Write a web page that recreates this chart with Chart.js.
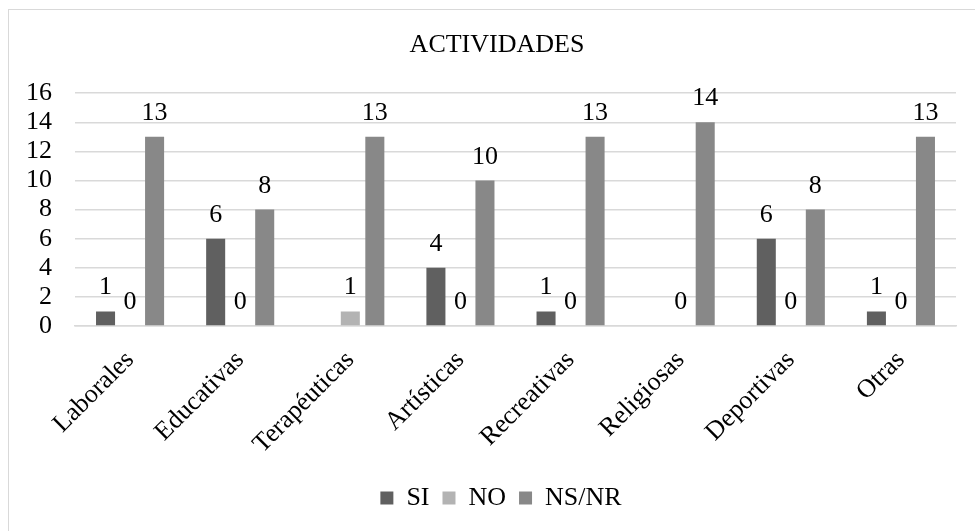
<!DOCTYPE html>
<html>
<head>
<meta charset="utf-8">
<script src="https://cdn.jsdelivr.net/npm/chart.js@4"></script>
<style>
  body { margin: 0; background: #fff; }
  .frame { position: absolute; left: 8px; top: 9px; width: 1000px; height: 600px; border: 1px solid #d9d9d9; }
  .wrap { position: absolute; left: 0; top: 0; width: 975px; height: 531px; }
</style>
</head>
<body>
<div class="frame"></div>
<div class="wrap"><canvas id="myChart" width="975" height="531"></canvas></div>
<script>
let categories = ['Laborales', 'Educativas', 'Terapéuticas', 'Artísticas', 'Recreativas', 'Religiosas', 'Deportivas', 'Otras'];

let si = [1, 6, null, 4, 1, null, 6, 1];
let no = [0, 0, 1, 0, 0, 0, 0, 0];
let nsnr = [13, 8, 13, 10, 13, 14, 8, 13];

let yTicks = [0, 2, 4, 6, 8, 10, 12, 14, 16];

const serif = "'Liberation Serif', 'Times New Roman', serif";
const fontSize = 26;
Chart.defaults.font.family = serif;
Chart.defaults.font.size = fontSize;
Chart.defaults.color = '#000';

// numbers above each bar
const valueLabels = {
    id: 'valueLabels',
    afterDatasetsDraw(chart) {
        const ctx = chart.ctx;
        ctx.save();
        ctx.font = fontSize + 'px ' + serif;
        ctx.fillStyle = '#000';
        ctx.textAlign = 'center';
        ctx.textBaseline = 'alphabetic';
        chart.data.datasets.forEach((ds, i) => {
            chart.getDatasetMeta(i).data.forEach((bar, j) => {
                const v = ds.data[j];
                if (v === null) return;
                ctx.fillText(String(v), bar.x, bar.y - 17);
            });
        });
        ctx.restore();
    }
};

// title and legend sit a little right of the canvas centre
const shiftBlocks = {
    id: 'shiftBlocks',
    afterLayout(chart) {
        if (chart.titleBlock) { chart.titleBlock.left += 19; chart.titleBlock.right += 19; }
        if (chart.legend) { chart.legend.left += 23; chart.legend.right += 23; }
    }
};

const chart = document.getElementById('myChart').getContext('2d');
const myChart = new Chart(chart, {
    type: 'bar',
    data: {
        labels: categories,
        datasets: [
            { label: 'SI', data: si, backgroundColor: '#606060' },
            { label: 'NO', data: no, backgroundColor: '#b3b3b3' },
            { label: 'NS/NR', data: nsnr, backgroundColor: '#888888' }
        ]
    },
    options: {
        responsive: false,
        animation: false,
        categoryPercentage: 0.668,
        barPercentage: 0.776,
        layout: { padding: { left: 0, right: 19, top: 0, bottom: 10 } },
        scales: {
            x: {
                grid: { display: false, drawTicks: false },
                border: { color: '#d9d9d9', width: 1.5 },
                ticks: {
                    minRotation: 45, maxRotation: 45,
                    autoSkip: false,
                    font: { family: serif, size: fontSize },
                    padding: 19
                },
                afterFit(scale) { scale.height = 146; }
            },
            y: {
                min: 0, max: 16,
                grid: { color: '#d9d9d9', lineWidth: 1.5, drawTicks: false },
                border: { display: false },
                ticks: {
                    stepSize: 2,
                    autoSkip: false,
                    font: { family: serif, size: fontSize },
                    padding: 23,
                    callback: (v) => yTicks.includes(v) ? v : ''
                },
                afterFit(scale) { scale.width = 75; }
            }
        },
        plugins: {
            title: {
                display: true,
                text: 'ACTIVIDADES',
                font: { family: serif, size: fontSize, weight: 'normal' },
                padding: { top: 30, bottom: 32 }
            },
            legend: {
                position: 'bottom',
                labels: {
                    boxWidth: 13, boxHeight: 13,
                    padding: 13,
                    font: { family: serif, size: fontSize }
                }
            },
            tooltip: { enabled: false }
        }
    },
    plugins: [valueLabels, shiftBlocks]
});
</script>
</body>
</html>
